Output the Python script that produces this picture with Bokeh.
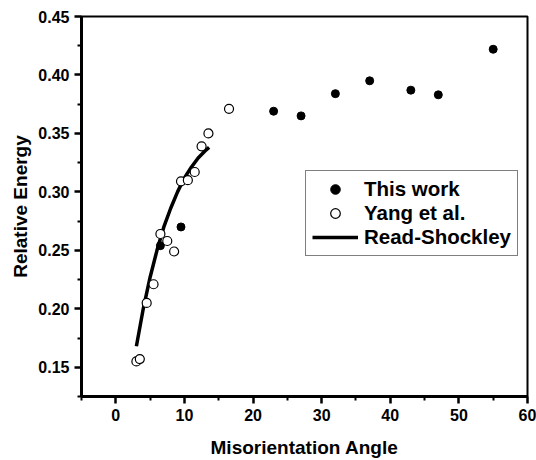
from bokeh.plotting import figure
from bokeh.models import Range1d, Legend, LegendItem, FixedTicker, CustomJSTickFormatter, Title
from bokeh.embed import file_html
from bokeh.resources import INLINE

# ---- data ----
this_x = [6.5, 9.5, 23, 27, 32, 37, 43, 47, 55]
this_y = [0.254, 0.270, 0.369, 0.365, 0.384, 0.395, 0.387, 0.383, 0.422]

yang_x = [3.0, 3.5, 4.5, 5.5, 6.5, 7.5, 8.5, 9.5, 10.5, 11.5, 12.5, 13.5, 16.5]
yang_y = [0.155, 0.157, 0.205, 0.221, 0.264, 0.258, 0.249, 0.309, 0.310, 0.317, 0.339, 0.350, 0.371]

rs_x = [3.0, 4.0, 5.0, 6.0, 7.0, 8.0, 9.0, 10.0, 11.0, 12.0, 13.0, 13.6]
rs_y = [0.168, 0.200, 0.227, 0.250, 0.270, 0.286, 0.300, 0.312, 0.321, 0.329, 0.335, 0.338]

x_ticks = [0, 10, 20, 30, 40, 50, 60]
x_minor = [-5, 5, 15, 25, 35, 45, 55]
y_ticks = [0.15, 0.20, 0.25, 0.30, 0.35, 0.40, 0.45]
y_minor = [0.125, 0.175, 0.225, 0.275, 0.325, 0.375, 0.425]

FONT = "Liberation Sans"

p = figure(width=536, height=460, output_backend="svg", toolbar_location=None,
           x_range=Range1d(-5, 60), y_range=Range1d(0.125, 0.45))
p.min_border_left = 81
p.min_border_right = 9
p.min_border_top = 16
p.min_border_bottom = 64
p.grid.visible = False
p.outline_line_color = "black"
p.outline_line_width = 2
p.background_fill_color = "white"
p.border_fill_color = "white"

rs = p.line(rs_x, rs_y, line_color="black", line_width=3.5)
tw = p.scatter(this_x, this_y, marker="circle", size=8, fill_color="black", line_color="black")
yg = p.scatter(yang_x, yang_y, marker="circle", size=9, fill_color="white", line_color="black", line_width=1.2)

p.xaxis.ticker = FixedTicker(ticks=x_ticks, minor_ticks=x_minor)
p.yaxis.ticker = FixedTicker(ticks=y_ticks, minor_ticks=y_minor)
p.yaxis.formatter = CustomJSTickFormatter(code="return tick.toFixed(2);")

for ax in (p.xaxis[0], p.yaxis[0]):
    ax.axis_line_width = 3
    ax.axis_line_color = "black"
    ax.major_tick_in = 0
    ax.major_tick_out = 7
    ax.minor_tick_in = 0
    ax.minor_tick_out = 4
    ax.major_tick_line_width = 2.5
    ax.minor_tick_line_width = 2
    ax.major_tick_line_color = "black"
    ax.minor_tick_line_color = "black"
    ax.major_label_text_font = FONT
    ax.major_label_text_font_style = "bold"
    ax.major_label_text_font_size = "16px"
    ax.major_label_text_color = "black"
    ax.major_label_standoff = 5
    ax.axis_label_text_font = FONT
    ax.axis_label_text_font_style = "bold"
    ax.axis_label_text_font_size = "19px"
    ax.axis_label_text_color = "black"

p.xaxis.axis_label = "Misorientation Angle"
p.xaxis.axis_label_standoff = 13

ytitle = Title(text="Relative Energy", align="center", offset=-32, standoff=10,
               text_font=FONT, text_font_style="bold", text_font_size="19px",
               text_color="black")
p.add_layout(ytitle, "left")

legend = Legend(items=[
    LegendItem(label="This work", renderers=[tw]),
    LegendItem(label="Yang et al.", renderers=[yg]),
    LegendItem(label="Read-Shockley", renderers=[rs]),
], location=(224, 140))
legend.border_line_color = "black"
legend.border_line_width = 1
legend.background_fill_alpha = 1
legend.padding = 6
legend.margin = 0
legend.spacing = 0
legend.glyph_width = 46
legend.glyph_height = 24
legend.label_height = 24
legend.label_standoff = 6
legend.label_text_font = FONT
legend.label_text_font_style = "bold"
legend.label_text_font_size = "20.5px"
legend.label_text_color = "black"
p.add_layout(legend, "center")

open("out.html", "w").write(file_html(p, INLINE))
